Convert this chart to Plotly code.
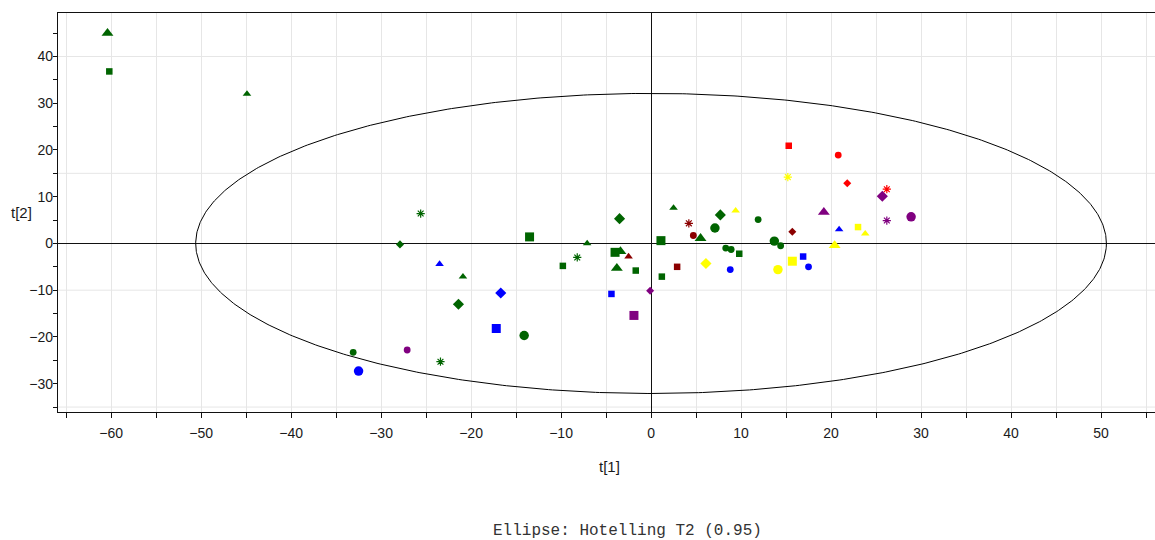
import numpy as np
import plotly.graph_objects as go

# PCA score coordinates (t[1], t[2]) for each observation
t1 = [-60.4, -60.2, -44.9, -25.6, -27.9, -23.5, -20.9, -21.4, -16.7, -13.5,
      -9.8, -8.2, -7.1, -33.1, -32.5, -27.1, -23.4, -17.2, -14.1, -1.9,
      15.3, 20.8, 15.2, 21.8, 26.2, 25.7, 26.2, 28.9, 19.2, 20.9,
      23.0, 23.8, 20.4, 15.7, 13.7, 14.4, 11.9, 9.4, 7.7, 7.1,
      5.5, 4.7, 4.2, 2.5, -3.5, 1.1, 8.3, 8.9, 9.8, -4.0,
      -3.4, -2.5, -3.8, -1.7, 1.2, 2.9, 6.1, 8.8, 14.1, 15.7,
      16.9, 17.5, -4.4, -0.1]
t2 = [45.0, 36.8, 32.0, 6.4, -0.2, -4.4, -7.1, -13.0, -10.6, 1.4,
      -4.8, -3.0, 0.0, -23.3, -27.3, -22.8, -25.3, -18.2, -19.7, -15.4,
      20.9, 18.9, 14.2, 12.9, 11.6, 10.1, 4.9, 5.7, 6.7, 3.0,
      3.5, 2.1, -0.4, 2.5, 0.5, -0.5, 5.1, 7.0, 6.1, 3.3,
      1.1, 1.7, 4.3, 7.6, 5.3, 0.6, -1.0, -1.3, -2.2, -1.9,
      -1.7, -2.8, -5.3, -5.8, -7.1, -5.0, -4.3, -5.6, -5.6, -3.8,
      -2.8, -5.0, -10.8, -10.1]
# class of each observation (colour key)
cls = ["G", "G", "G", "G", "G", "B", "G", "G", "B", "G",
       "G", "G", "G", "G", "B", "P", "G", "B", "G", "P",
       "R", "R", "Y", "R", "R", "P", "P", "P", "P", "B",
       "Y", "Y", "Y", "DR", "G", "G", "G", "Y", "G", "G",
       "G", "DR", "DR", "G", "G", "G", "G", "G", "G", "G",
       "G", "DR", "G", "G", "G", "DR", "Y", "B", "Y", "Y",
       "B", "B", "B", "P"]
# sub-type of each observation (marker shape key)
kind = ["tr", "sq", "tr", "as", "di", "tr", "tr", "di", "di", "sq",
        "sq", "as", "tr", "ci", "ci", "ci", "as", "sq", "ci", "sq",
        "sq", "ci", "as", "di", "as", "di", "as", "ci", "tr", "tr",
        "sq", "tr", "tr", "di", "ci", "ci", "ci", "tr", "di", "ci",
        "tr", "ci", "as", "tr", "di", "sq", "ci", "ci", "sq", "sq",
        "tr", "tr", "tr", "sq", "sq", "sq", "di", "ci", "ci", "sq",
        "sq", "ci", "sq", "di"]
# level of each observation (marker size key)
tier = ["L", "S", "S", "S", "S", "S", "S", "L", "L", "L",
        "S", "S", "S", "S", "L", "S", "S", "L", "L", "L",
        "S", "S", "S", "S", "S", "L", "S", "L", "L", "S",
        "S", "S", "L", "S", "L", "S", "S", "S", "L", "L",
        "L", "S", "S", "S", "L", "L", "S", "S", "S", "L",
        "L", "S", "L", "S", "S", "S", "L", "S", "L", "L",
        "S", "S", "S", "S"]

CLASS_ORDER = ["G", "B", "P", "R", "DR", "Y"]

# Hotelling T2 (0.95) ellipse semi-axes
ELLIPSE_A = 50.6
ELLIPSE_B = 32.1

GRID_Y = [-35, -10, 15, 40]

# ---- styling ----
CLASS_COLOR = {"G": "#006400", "B": "#0000ff", "P": "#800080",
               "R": "#ff0000", "DR": "#8b0000", "Y": "#ffff00"}
KIND_SYMBOL = {"sq": "square", "ci": "circle", "tr": "triangle-up",
               "di": "diamond", "as": "asterisk-open"}
KIND_SCALE = {"sq": 1.0, "ci": 1.05, "tr": 1.15, "di": 0.95, "as": 1.05}
TIER_SIZE = {"L": 9.0, "S": 6.5}
FONT = "Liberation Sans, Arial, sans-serif"
GRID_COLOR = "#e6e6e6"
AXIS_COLOR = "#111111"

fig = go.Figure()

# confidence ellipse
theta = np.linspace(0, 2 * np.pi, 721)
fig.add_trace(go.Scatter(
    x=ELLIPSE_A * np.cos(theta), y=ELLIPSE_B * np.sin(theta),
    mode="lines", line=dict(color="#000000", width=1),
    hoverinfo="skip", showlegend=False))

# score points, one trace per class
for c in CLASS_ORDER:
    idx = [i for i, v in enumerate(cls) if v == c]
    if not idx:
        continue
    col = CLASS_COLOR[c]
    fig.add_trace(go.Scatter(
        x=[t1[i] for i in idx], y=[t2[i] for i in idx],
        mode="markers", showlegend=False,
        marker=dict(
            color=col, opacity=1,
            symbol=[KIND_SYMBOL[kind[i]] for i in idx],
            size=[TIER_SIZE[tier[i]] * KIND_SCALE[kind[i]] for i in idx],
            line=dict(color=col,
                      width=[1.2 if kind[i] == "as" else 0 for i in idx]),
        )))

shapes = [dict(type="line", xref="paper", x0=0, x1=1, yref="y", y0=g, y1=g,
               line=dict(color=GRID_COLOR, width=1), layer="below")
          for g in GRID_Y]

fig.update_layout(
    width=1155, height=540,
    margin=dict(l=58, r=0, t=13, b=128),
    paper_bgcolor="white", plot_bgcolor="white",
    font=dict(family=FONT, size=14, color="#222222"),
    shapes=shapes,
    xaxis=dict(
        range=[-65.9, 56.0], tick0=0, dtick=10,
        showline=True, linecolor=AXIS_COLOR, linewidth=1.3, mirror=True,
        ticks="outside", ticklen=5, tickcolor=AXIS_COLOR,
        showgrid=True, gridcolor=GRID_COLOR, gridwidth=1,
        minor=dict(tick0=0, dtick=5, ticks="outside", ticklen=5,
                   tickcolor=AXIS_COLOR, showgrid=True, gridcolor=GRID_COLOR),
        zeroline=True, zerolinecolor=AXIS_COLOR, zerolinewidth=1,
        tickfont=dict(family=FONT, size=14, color="#1a1a1a"),
        ticklabelstandoff=3,
    ),
    yaxis=dict(
        range=[-36.06, 49.3], tick0=0, dtick=10,
        showline=True, linecolor=AXIS_COLOR, linewidth=1.3,
        ticks="outside", ticklen=4, tickcolor=AXIS_COLOR,
        showgrid=False,
        minor=dict(tick0=0, dtick=5, ticks="outside", ticklen=4,
                   tickcolor=AXIS_COLOR, showgrid=False),
        zeroline=True, zerolinecolor=AXIS_COLOR, zerolinewidth=1,
        tickfont=dict(family=FONT, size=14, color="#1a1a1a"),
        ticklabelstandoff=-3,
    ),
    annotations=[
        dict(text="t[2]", xref="paper", yref="paper", x=-0.0337, y=0.501,
             showarrow=False, xanchor="center", yanchor="middle",
             font=dict(family=FONT, size=15, color="#1a1a1a")),
        dict(text="t[1]", xref="paper", yref="paper", x=0.503, y=-0.137,
             showarrow=False, xanchor="center", yanchor="middle",
             font=dict(family=FONT, size=15, color="#1a1a1a")),
        dict(text="Ellipse: Hotelling T2 (0.95)", xref="paper", yref="paper",
             x=0.5187, y=-0.298, showarrow=False, xanchor="center",
             yanchor="middle", borderpad=0,
             font=dict(family="Liberation Mono, Courier New, monospace",
                       size=16, color="#333333")),
    ],
)

fig.write_html("out.html")
